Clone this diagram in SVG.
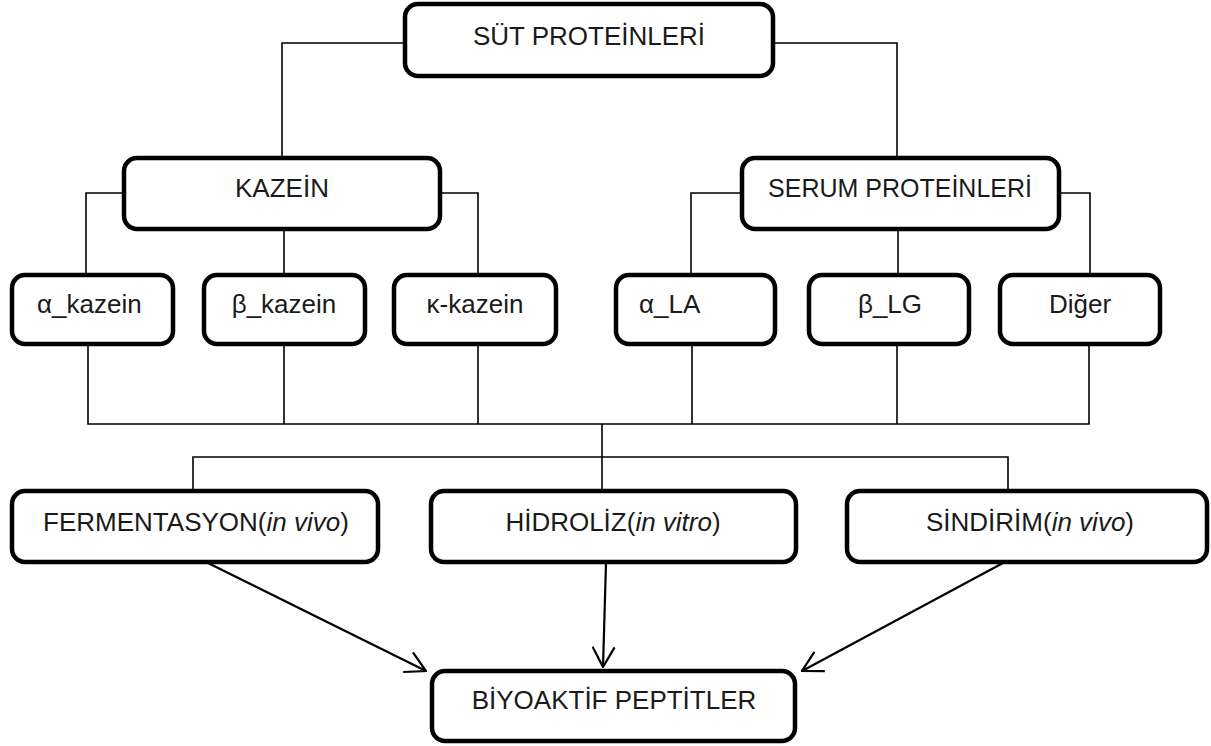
<svg xmlns="http://www.w3.org/2000/svg" width="1211" height="746" viewBox="0 0 1211 746">
<style>
.box{fill:#fff;stroke:#000;stroke-width:4.5}
.t{font-family:"Liberation Sans",Arial,sans-serif;font-size:26px;fill:#1a1a1a}
.c{text-anchor:middle}
.ln{fill:none;stroke:#000;stroke-width:1.6}
.ar{fill:none;stroke:#000;stroke-width:2.2}
</style>
<defs>
<marker id="ah" markerUnits="userSpaceOnUse" viewBox="0 0 22 24" refX="21" refY="12" markerWidth="22" markerHeight="24" orient="auto">
<path d="M1,1 L21,12 L1,23" fill="none" stroke="#000" stroke-width="2.2"/>
</marker>
</defs>
<rect width="1211" height="746" fill="#fff"/>
<g id="connectors">
<path class="ln" d="M405,43 H282 V158"/>
<path class="ln" d="M773,43 H897 V158"/>
<path class="ln" d="M124,193 H86 V275"/>
<path class="ln" d="M440,193 H478 V275"/>
<path class="ln" d="M284,229 V275"/>
<path class="ln" d="M742,193 H691 V275"/>
<path class="ln" d="M1059,193 H1090 V275"/>
<path class="ln" d="M898,229 V275"/>
<path class="ln" d="M88,344 V424 H1089 V344"/>
<path class="ln" d="M284,344 V424"/>
<path class="ln" d="M478,344 V424"/>
<path class="ln" d="M692,344 V424"/>
<path class="ln" d="M897,344 V424"/>
<path class="ln" d="M602,424 V491"/>
<path class="ln" d="M193,491 V457 H1008 V491"/>
<path class="ar" d="M208,563 L426,671" marker-end="url(#ah)"/>
<path class="ar" d="M606,563 L603,667" marker-end="url(#ah)"/>
<path class="ar" d="M1003,563 L802,671" marker-end="url(#ah)"/>
</g>
<g id="sut"><rect class="box" x="405" y="4" width="368" height="72" rx="13"/><text class="t c" x="589" y="45">SÜT PROTEİNLERİ</text></g>
<g id="kazein"><rect class="box" x="124" y="158" width="316" height="71" rx="13"/><text class="t c" x="282" y="197">KAZEİN</text></g>
<g id="serum"><rect class="box" x="742" y="158" width="317" height="71" rx="13"/><text class="t c" x="900" y="197" style="font-size:25px">SERUM PROTEİNLERİ</text></g>
<g id="a_kazein"><rect class="box" x="12" y="275" width="161" height="69" rx="13"/><text class="t" x="37" y="313">α_kazein</text></g>
<g id="b_kazein"><rect class="box" x="204" y="275" width="161" height="69" rx="13"/><text class="t c" x="284" y="313">β_kazein</text></g>
<g id="k_kazein"><rect class="box" x="394" y="275" width="162" height="69" rx="13"/><text class="t c" x="475" y="313">κ-kazein</text></g>
<g id="a_la"><rect class="box" x="616" y="275" width="159" height="69" rx="13"/><text class="t" x="639" y="313">α_LA</text></g>
<g id="b_lg"><rect class="box" x="809" y="275" width="160" height="69" rx="13"/><text class="t c" x="890" y="313">β_LG</text></g>
<g id="diger"><rect class="box" x="1000" y="275" width="160" height="69" rx="13"/><text class="t c" x="1080" y="313">Diğer</text></g>
<g id="fermentasyon"><rect class="box" x="12" y="491" width="366" height="71" rx="13"/><text class="t c" x="196" y="531">FERMENTASYON(<tspan font-style="italic">in vivo</tspan>)</text></g>
<g id="hidroliz"><rect class="box" x="431" y="491" width="365" height="71" rx="13"/><text class="t c" x="613" y="531">HİDROLİZ(<tspan font-style="italic">in vitro</tspan>)</text></g>
<g id="sindirim"><rect class="box" x="847" y="491" width="360" height="71" rx="13"/><text class="t c" x="1030" y="531">SİNDİRİM(<tspan font-style="italic">in vivo</tspan>)</text></g>
<g id="biyoaktif"><rect class="box" x="432" y="671" width="363" height="70" rx="13"/><text class="t c" x="614" y="709">BİYOAKTİF PEPTİTLER</text></g>
</svg>
